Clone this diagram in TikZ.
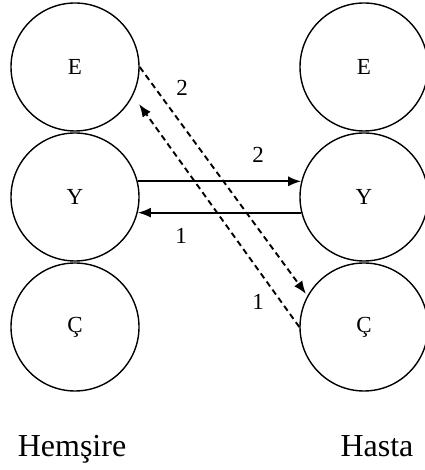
\documentclass[tikz,border=0pt]{standalone}
\usepackage{fontspec}
\setmainfont{Liberation Serif}
\usetikzlibrary{arrows.meta}
\begin{document}
\begin{tikzpicture}[x=1pt,y=1pt,
  ring/.style={draw,circle,line width=1.4pt,minimum size=128pt,inner sep=0pt,font=\fontsize{23}{26}\selectfont},
  flow/.style={line width=1.9pt,-{Latex[length=13pt,width=10pt]}},
  dflow/.style={flow,dash pattern=on 6pt off 4pt},
  num/.style={font=\fontsize{23}{26}\selectfont},
  side/.style={anchor=base,font=\fontsize{32}{36}\selectfont}]
\useasboundingbox (0,0) rectangle (424,470);
\node[ring] (lE) at (75,403) {E};
\node[ring] (lY) at (75,273) {Y};
\node[ring] (lC) at (75,143) {Ç};
\node[ring] (rE) at (364,403) {E};
\node[ring] (rY) at (364,273) {Y};
\node[ring] (rC) at (364,143) {Ç};
\coordinate (t1) at (306,176);
\coordinate (t2) at (139,366);
\draw[flow] (lY.14) -- (rY.166);
\draw[flow] (rY.194) -- (lY.-14);
\draw[dflow] (lE.east) -- (t1);
\draw[dflow] (rC.west) -- (t2);
\node[num] (n1) at (182,382) {2};
\node[num] (n2) at (258,315) {2};
\node[num] (n3) at (181,234) {1};
\node[num] (n4) at (258,168) {1};
\node[side] (h1) at (72,13) {Hemşire};
\node[side] (h2) at (377,13) {Hasta};
\end{tikzpicture}
\end{document}
